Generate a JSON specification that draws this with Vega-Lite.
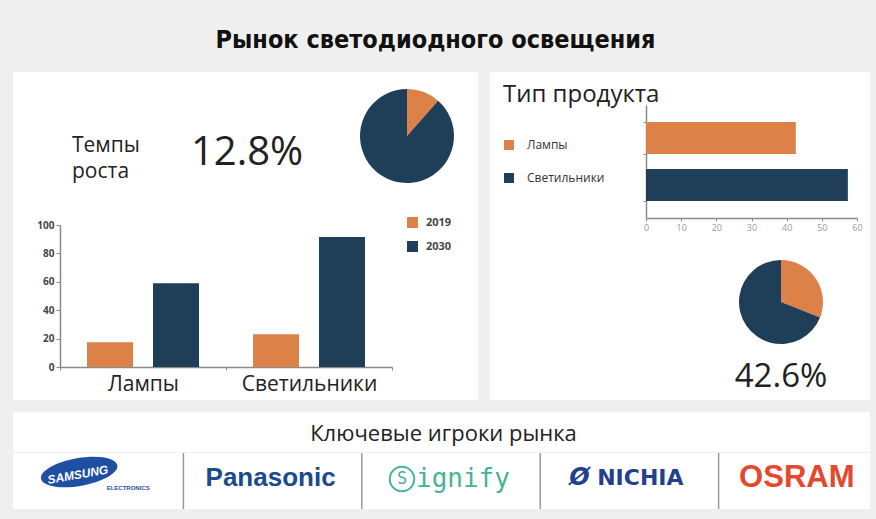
{
  "$schema": "https://vega.github.io/schema/vega-lite/v6.json",
  "background": "#efefef",
  "padding": {"left": 13, "top": 10, "right": 6, "bottom": 11},
  "spacing": 12,
  "resolve": {"scale": {"color": "independent"}, "legend": {"color": "independent"}},
  "config": {
    "view": {"stroke": null, "fill": "white"},
    "font": "Open Sans",
    "axis": {"grid": false, "title": null, "domainColor": "#8a8a8a", "tickColor": "#8a8a8a", "labelFont": "Open Sans", "labelFlush": false},
    "legend": {"labelFont": "Open Sans", "titleFont": "Open Sans"}
  },
  "vconcat": [
    {
      "width": 857, "height": 50,
      "view": {"fill": "transparent", "stroke": null},
      "data": {"values": [{"title": "Рынок светодиодного освещения"}]},
      "mark": {"type": "text", "font": "DejaVu Sans Condensed, DejaVu Sans", "fontWeight": "bold", "fontSize": 25, "color": "#111", "dx": -6, "dy": 5},
      "encoding": {"text": {"field": "title"}}
    },
    {
      "hconcat": [
        {
          "vconcat": [
            {
              "hconcat": [
                {
                  "width": 160, "height": 128,
                  "data": {"values": [{"label": "Темпы роста"}]},
                  "layer": [
                    {"mark": {"type": "rect", "color": "white", "opacity": 1}, "encoding": {}},
                    {
                      "mark": {"type": "text", "align": "left", "baseline": "middle", "fontSize": 21, "lineBreak": " ", "lineHeight": 26, "dx": -21, "dy": 10, "color": "#222"},
                      "encoding": {"text": {"field": "label"}}
                    }
                  ]
                },
                {
                  "width": 182, "height": 128,
                  "data": {"values": [{"rate": "12.8%"}]},
                  "layer": [
                    {"mark": {"type": "rect", "color": "white", "opacity": 1}, "encoding": {}},
                    {
                      "mark": {"type": "text", "align": "center", "baseline": "middle", "fontSize": 40, "dx": -17, "dy": 17, "color": "#222"},
                      "encoding": {"text": {"field": "rate"}}
                    }
                  ]
                },
                {
                  "width": 104, "height": 128,
                  "data": {"values": [{"part": "доля", "value": 11.5}, {"part": "остальное", "value": 88.5}]},
                  "layer": [
                    {"mark": {"type": "rect", "color": "white", "opacity": 1}, "encoding": {}},
                    {
                      "mark": {"type": "arc", "outerRadius": 47},
                      "encoding": {
                        "theta": {"field": "value", "type": "quantitative", "stack": true},
                        "color": {"field": "part", "type": "nominal", "scale": {"domain": ["доля", "остальное"], "range": ["#dc8148", "#1f3e57"]}, "legend": null},
                        "order": {"field": "part", "type": "ordinal", "sort": "ascending"}
                      }
                    }
                  ]
                },
                {
                  "width": 19, "height": 128,
                  "data": {"values": [{"blank": ""}]},
                  "mark": {"type": "rect", "color": "white", "opacity": 1},
                  "encoding": {}
                }
              ],
              "spacing": 0,
              "resolve": {"scale": {"color": "independent"}, "legend": {"color": "independent"}}
            },
            {
              "width": 465, "height": 200,
              "data": {"values": [
                {"category": "Лампы", "year": "2019", "value": 17.5},
                {"category": "Лампы", "year": "2030", "value": 59},
                {"category": "Светильники", "year": "2019", "value": 23},
                {"category": "Светильники", "year": "2030", "value": 91.5}
              ]},
              "mark": {"type": "bar"},
              "encoding": {
                "x": {"field": "category", "type": "nominal", "sort": null,
                  "scale": {"range": [47, 379], "paddingInner": 0, "paddingOuter": 0},
                  "axis": {"orient": "bottom", "offset": -33, "labelAngle": 0, "labelFontSize": 21, "labelColor": "#222", "labelPadding": 3, "tickBand": "extent", "tickSize": 3, "domainWidth": 1.5}},
                "xOffset": {"field": "year", "type": "nominal", "scale": {"paddingInner": 0.303, "paddingOuter": 0.409}},
                "y": {"field": "value", "type": "quantitative",
                  "scale": {"domain": [0, 100], "range": [167, 25], "nice": false},
                  "axis": {"offset": -47, "values": [0, 20, 40, 60, 80, 100], "labelFontSize": 10, "labelFontWeight": "bold", "labelColor": "#444", "tickSize": 4, "labelPadding": 2, "domainWidth": 1.5}},
                "color": {"field": "year", "type": "nominal",
                  "scale": {"domain": ["2019", "2030"], "range": ["#dc8148", "#1f3e57"]},
                  "legend": {"title": null, "orient": "none", "legendX": 394, "legendY": 17, "symbolType": "square", "symbolSize": 121, "symbolStrokeWidth": 0, "labelFontSize": 11, "labelFontWeight": "bold", "labelColor": "#444", "rowPadding": 12, "labelOffset": 8}}
              }
            }
          ],
          "spacing": 0,
          "resolve": {"scale": {"color": "independent"}, "legend": {"color": "independent"}}
        },
        {
          "vconcat": [
            {
              "width": 380, "height": 168,
              "data": {"values": [{"type": "Лампы", "share": 42.6}, {"type": "Светильники", "share": 57.4}]},
              "mark": {"type": "bar"},
              "encoding": {
                "y": {"field": "type", "type": "nominal", "sort": null,
                  "scale": {"range": [33, 146], "paddingInner": 0.32, "paddingOuter": 0.36},
                  "axis": {"offset": -156, "labels": false, "tickBand": "extent", "tickSize": 3, "domainWidth": 1.5}},
                "x": {"field": "share", "type": "quantitative",
                  "scale": {"domain": [0, 60], "range": [156, 367], "nice": false},
                  "axis": {"orient": "bottom", "offset": -22, "values": [0, 10, 20, 30, 40, 50, 60], "labelFontSize": 9, "labelColor": "#999", "tickSize": 3, "labelPadding": 2, "domainWidth": 1.5}},
                "color": {"field": "type", "type": "nominal",
                  "scale": {"domain": ["Лампы", "Светильники"], "range": ["#dc8148", "#1f3e57"]},
                  "legend": {"title": "Тип продукта", "orient": "none", "legendX": 13, "legendY": 11, "titleFontSize": 24, "titleFontWeight": "normal", "titleColor": "#222", "titlePadding": 32, "titleLimit": 300, "symbolType": "square", "symbolSize": 100, "symbolStrokeWidth": 0, "labelFontSize": 12, "labelColor": "#333", "rowPadding": 21, "labelOffset": 12}}
              }
            },
            {
              "hconcat": [
                {
                  "width": 238, "height": 160,
                  "data": {"values": [{"blank": ""}]},
                  "mark": {"type": "rect", "color": "white", "opacity": 1},
                  "encoding": {}
                },
                {
                  "width": 106, "height": 160,
                  "data": {"values": [{"part": "Лампы", "value": 31, "pct": "42.6%"}, {"part": "Светильники", "value": 69, "pct": "42.6%"}]},
                  "layer": [
                    {"mark": {"type": "rect", "color": "white", "opacity": 1}, "encoding": {}},
                    {
                      "mark": {"type": "arc", "outerRadius": 42, "yOffset": -18},
                      "encoding": {
                        "theta": {"field": "value", "type": "quantitative", "stack": true},
                        "color": {"field": "part", "type": "nominal", "scale": {"domain": ["Лампы", "Светильники"], "range": ["#dc8148", "#1f3e57"]}, "legend": null},
                        "order": {"field": "part", "type": "ordinal", "sort": "ascending"}
                      }
                    },
                    {
                      "transform": [{"filter": "datum.part === 'Лампы'"}],
                      "mark": {"type": "text", "align": "center", "baseline": "middle", "fontSize": 33, "dy": 57, "color": "#222"},
                      "encoding": {"text": {"field": "pct"}}
                    }
                  ]
                },
                {
                  "width": 36, "height": 160,
                  "data": {"values": [{"blank": ""}]},
                  "mark": {"type": "rect", "color": "white", "opacity": 1},
                  "encoding": {}
                }
              ],
              "spacing": 0,
              "resolve": {"scale": {"color": "independent"}, "legend": {"color": "independent"}}
            }
          ],
          "spacing": 0,
          "resolve": {"scale": {"color": "independent"}, "legend": {"color": "independent"}}
        }
      ],
      "spacing": 12,
      "resolve": {"scale": {"color": "independent"}, "legend": {"color": "independent"}}
    },
    {
      "vconcat": [
        {
          "width": 857, "height": 40,
          "data": {"values": [{"heading": "Ключевые игроки рынка"}]},
          "layer": [
            {"mark": {"type": "rect", "color": "white", "opacity": 1}, "encoding": {}},
            {
              "mark": {"type": "text", "align": "center", "baseline": "middle", "fontSize": 22, "dx": 2, "dy": 2, "color": "#222"},
              "encoding": {"text": {"field": "heading"}}
            }
          ]
        },
        {
          "width": 857, "height": 56,
          "encoding": {
            "x": {"field": "company", "type": "nominal", "axis": null,
              "scale": {"domain": ["Samsung", "Panasonic", "Signify", "Nichia", "Osram"], "range": [-8, 884], "paddingInner": 0, "paddingOuter": 0}}
          },
          "layer": [
            {
              "data": {"values": [{"company": "Panasonic"}, {"company": "Signify"}, {"company": "Nichia"}, {"company": "Osram"}]},
              "mark": {"type": "rule", "color": "#9a9a9a", "strokeWidth": 1.5},
              "encoding": {"x": {"field": "company", "type": "nominal", "bandPosition": 0}}
            },
            {
              "data": {"values": [{"company": "Samsung"}]},
              "mark": {"type": "point", "shape": "M -1 0 A 1 0.36 0 1 1 1 0 A 1 0.36 0 1 1 -1 0 Z", "size": 6000, "filled": true, "opacity": 1, "color": "#1f4fa3", "angle": -10, "xOffset": -15, "yOffset": -9}
            },
            {
              "data": {"values": [{"company": "Samsung", "logo": "SAMSUNG"}]},
              "mark": {"type": "text", "font": "Liberation Sans", "fontWeight": "bold", "fontStyle": "italic", "fontSize": 12, "color": "white", "angle": -10, "dx": -15, "dy": -9},
              "encoding": {"text": {"field": "logo"}}
            },
            {
              "data": {"values": [{"company": "Samsung", "logo": "ELECTRONICS"}]},
              "mark": {"type": "text", "font": "Liberation Sans", "fontWeight": "bold", "fontSize": 6, "color": "#1f4fa3", "dx": 34, "dy": 7},
              "encoding": {"text": {"field": "logo"}}
            },
            {
              "data": {"values": [{"company": "Panasonic", "logo": "Panasonic"}]},
              "mark": {"type": "text", "font": "Liberation Sans", "fontWeight": "bold", "fontSize": 26, "color": "#1c4a8f", "dx": -2, "dy": -3},
              "encoding": {"text": {"field": "logo"}}
            },
            {
              "data": {"values": [{"company": "Signify"}]},
              "mark": {"type": "point", "shape": "circle", "size": 600, "filled": false, "stroke": "#46b398", "strokeWidth": 2, "opacity": 1, "xOffset": -49, "yOffset": -2}
            },
            {
              "data": {"values": [{"company": "Signify", "logo": "S"}]},
              "mark": {"type": "text", "font": "DejaVu Sans Mono", "fontSize": 17, "color": "#46b398", "dx": -49, "dy": -2},
              "encoding": {"text": {"field": "logo"}}
            },
            {
              "data": {"values": [{"company": "Signify", "logo": "ignify"}]},
              "mark": {"type": "text", "align": "left", "font": "DejaVu Sans Mono", "fontSize": 26, "color": "#46b398", "dx": -35, "dy": -2},
              "encoding": {"text": {"field": "logo"}}
            },
            {
              "data": {"values": [{"company": "Nichia", "logo": "Ø"}]},
              "mark": {"type": "text", "font": "DejaVu Sans", "fontWeight": "bold", "fontStyle": "italic", "fontSize": 24, "color": "#233f8e", "dx": -50, "dy": -3},
              "encoding": {"text": {"field": "logo"}}
            },
            {
              "data": {"values": [{"company": "Nichia", "logo": "NICHIA"}]},
              "mark": {"type": "text", "font": "DejaVu Sans", "fontWeight": "bold", "fontSize": 22, "color": "#233f8e", "dx": 11, "dy": -3},
              "encoding": {"text": {"field": "logo"}}
            },
            {
              "data": {"values": [{"company": "Osram", "logo": "OSRAM"}]},
              "mark": {"type": "text", "font": "Liberation Sans", "fontWeight": "bold", "fontSize": 31, "color": "#e5492d", "dx": -11, "dy": -3},
              "encoding": {"text": {"field": "logo"}}
            }
          ]
        }
      ],
      "spacing": 0
    }
  ]
}
